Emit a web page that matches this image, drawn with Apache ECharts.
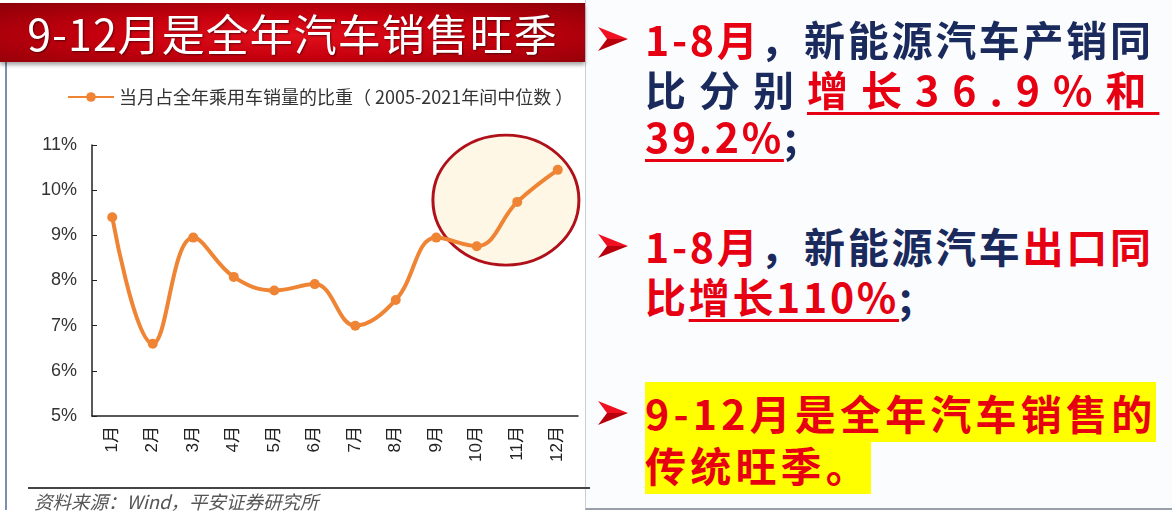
<!DOCTYPE html>
<html>
<head>
<meta charset="utf-8">
<script src="https://cdn.jsdelivr.net/npm/echarts@6/dist/echarts.min.js"></script>
<style>
  html, body { margin: 0; padding: 0; background: #fff; }
  body { width: 1172px; height: 522px; position: relative; overflow: hidden;
         font-family: "Noto Sans CJK SC", "Noto Sans", sans-serif; }
  .banner { position: absolute; left: 0; top: 3px; width: 585px; height: 59px;
            background: radial-gradient(ellipse at 50% 55%, #e2101c 0%, #c8000e 45%, #8c0008 100%);
            box-shadow: 0 3px 4px rgba(0,0,0,0.35); }
  .banner span { position: absolute; left: 0; width: 585px; top: 0; line-height: 59px; text-align: center;
                 color: #fff; font-size: 43px; letter-spacing: 1px; text-shadow: 1px 1px 2px rgba(0,0,0,0.5); }
  .leftbox { position: absolute; left: 5px; top: 62px; width: 580px; height: 448px;
             border-left: 2px solid #7d8db0; }
  #chart { position: absolute; left: 0; top: 0; width: 590px; height: 522px; }
  .footline { position: absolute; left: 28px; top: 487px; width: 562px; height: 2px; background: #444; }
  .source { position: absolute; left: 34px; top: 489px; font-size: 18.5px; line-height: 24px; color: #555; font-style: italic; }
  .rightbox { position: absolute; left: 585px; top: 0; width: 587px; height: 508px;
              background: #fafcfe; border-left: 1px solid #c9ced8; border-bottom: 2px solid #9aa0aa; }
  .ln { position: absolute; left: 645px; font-size: 41px; font-weight: bold; line-height: 48px;
        letter-spacing: 2.7px; color: #1b2a5c; white-space: nowrap; }
  .arrow { position: absolute; left: 598px; width: 30px; height: 24px; }
  .r { color: #e60012; }
  .u { text-decoration: underline; text-decoration-color: #e60012; text-decoration-thickness: 3px; text-underline-offset: 6px; }
  .hl { background: #ffff00; color: #e60012; }
</style>
</head>
<body>
<div class="rightbox"></div>
<div class="leftbox"></div>
<div id="chart"></div>
<div class="banner"><span>9-12月是全年汽车销售旺季</span></div>
<div class="footline"></div>
<div class="source">资料来源：Wind，平安证券研究所</div>

<svg class="arrow" style="top:27px" viewBox="0 0 30 24"><polygon points="0,0 30,12 9,12" fill="#f01020"/><polygon points="9,12 30,12 0,24" fill="#b8000c"/></svg>
<div class="ln" style="top:14px"><span class="r">1-8月</span>，新能源汽车产销同</div>
<div class="ln" style="top:64px; letter-spacing:13px">比分别<span class="r u">增长36.9%和</span></div>
<div class="ln" style="top:111px"><span class="r u">39.2%</span>;</div>

<svg class="arrow" style="top:234px" viewBox="0 0 30 24"><polygon points="0,0 30,12 9,12" fill="#f01020"/><polygon points="9,12 30,12 0,24" fill="#b8000c"/></svg>
<div class="ln" style="top:221px"><span class="r">1-8月</span>，新能源汽车<span class="r">出口同</span></div>
<div class="ln" style="top:271px"><span class="r">比<span class="u">增长110%</span></span>;</div>

<svg class="arrow" style="top:401px" viewBox="0 0 30 24"><polygon points="0,0 30,12 9,12" fill="#f01020"/><polygon points="9,12 30,12 0,24" fill="#b8000c"/></svg>
<div class="ln" style="top:386px; line-height:52px; letter-spacing:4.2px"><span class="hl">9-12月是全年汽车销售的</span></div>
<div class="ln" style="top:438px; line-height:52px; letter-spacing:4.2px"><span class="hl">传统旺季。</span></div>

<script>
var months = ['1月', '2月', '3月', '4月', '5月', '6月', '7月', '8月', '9月', '10月', '11月', '12月'];
var shareValues = [9.4, 6.6, 8.95, 8.08, 7.78, 7.92, 7.0, 7.57, 8.95, 8.76, 9.74, 10.45];
var seriesName = '当月占全年乘用车销量的比重（ 2005-2021年间中位数 ）';
var yMin = 5, yMax = 11, yStep = 1;

var chart = echarts.init(document.getElementById('chart'));
var orange = '#ee8434';
chart.setOption({
    animation: false,
    textStyle: { fontFamily: '"Liberation Sans", "Noto Sans CJK SC", sans-serif' },
    legend: {
        left: 62,
        top: 83,
        itemWidth: 46,
        itemHeight: 12,
        itemGap: 4,
        textStyle: { fontSize: 18, color: '#333', fontFamily: '"Noto Sans CJK SC", sans-serif' },
        data: [seriesName]
    },
    grid: { left: 92, right: 12, top: 145, bottom: 106 },
    xAxis: {
        type: 'category',
        data: months,
        boundaryGap: true,
        axisLine: { lineStyle: { color: '#222', width: 1.5 } },
        axisTick: { inside: true, length: 6, lineStyle: { color: '#222' } },
        axisLabel: { rotate: 90, fontSize: 17, color: '#222', margin: 10 }
    },
    yAxis: {
        type: 'value',
        min: yMin,
        max: yMax,
        interval: yStep,
        axisLine: { show: true, lineStyle: { color: '#222', width: 1.5 } },
        axisTick: { show: true, inside: true, length: 5, lineStyle: { color: '#222' } },
        splitLine: { show: false },
        axisLabel: { formatter: '{value}%', fontSize: 18, color: '#333', margin: 15 }
    },
    series: [{
        name: seriesName,
        type: 'line',
        data: shareValues,
        smooth: 0.4,
        symbol: 'circle',
        symbolSize: 10,
        z: 5,
        lineStyle: { color: orange, width: 4 },
        itemStyle: { color: orange }
    }]
});

// 红色椭圆圈出9-12月，位置由坐标轴换算
var a = chart.convertToPixel({ xAxisIndex: 0, yAxisIndex: 0 }, ['10月', 9.78]);
var b = chart.convertToPixel({ xAxisIndex: 0, yAxisIndex: 0 }, ['11月', 9.78]);
var cx = a[0] + (b[0] - a[0]) * 0.72;
chart.setOption({
    graphic: [{
        type: 'circle',
        z: 1,
        x: cx,
        y: a[1],
        scaleY: 65 / 73,
        shape: { cx: 0, cy: 0, r: 73 },
        style: { fill: '#fff7e6', stroke: '#b0101a', lineWidth: 3, strokeNoScale: true }
    }]
});
</script>
</body>
</html>
